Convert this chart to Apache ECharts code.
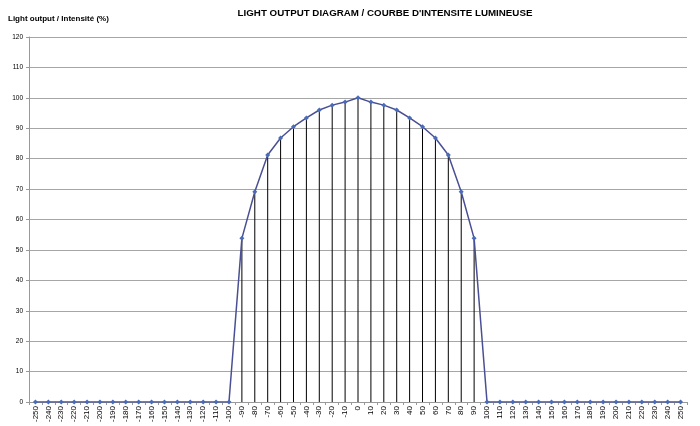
<!DOCTYPE html>
<html><head><meta charset="utf-8">
<script src="https://cdn.jsdelivr.net/npm/echarts@6/dist/echarts.min.js"></script>
<style>html,body{margin:0;padding:0;background:#fff}#c{width:700px;height:426px}</style>
</head><body><div id="c"></div>
<script>
var categories = [];
for (var a = -250; a <= 250; a += 10) categories.push(String(a));
var intensity = [
  0,0,0,0,0,0,0,0,0,0,0,0,0,0,0,0,
  53.8,69.1,81.2,86.8,90.5,93.4,96.0,97.6,98.6,100,
  98.6,97.6,96.0,93.4,90.5,86.8,81.2,69.1,53.8,
  0,0,0,0,0,0,0,0,0,0,0,0,0,0,0,0
];
var yTicks = {min: 0, max: 120, interval: 10};
var titleText = "LIGHT OUTPUT DIAGRAM / COURBE D'INTENSITE LUMINEUSE";
var yName = "Light output / Intensité (%)";

var chart = echarts.init(document.getElementById('c'), null, {renderer: 'canvas'});
chart.setOption({
  animation: false,
  backgroundColor: '#fff',
  title: {
    text: titleText, left: 380, top: 3, textAlign: 'center',
    textStyle: {fontFamily: 'Liberation Sans, Arial', fontSize: 9.75, fontWeight: 'bold', color: '#000'}
  },
  grid: {left: 29, right: 13, top: 37, bottom: 24, containLabel: false},
  xAxis: {
    type: 'category', data: categories, boundaryGap: true,
    axisLine: {lineStyle: {color: '#999', width: 1}},
    axisTick: {show: true, length: 3, lineStyle: {color: '#999'}},
    axisLabel: {rotate: 90, fontSize: 8, color: '#000', fontFamily: 'Liberation Sans, Arial', margin: 4, interval: 0}
  },
  yAxis: {
    type: 'value', min: yTicks.min, max: yTicks.max, interval: yTicks.interval,
    name: yName, nameLocation: 'end',
    nameTextStyle: {fontFamily: 'Liberation Sans, Arial', fontSize: 8, fontWeight: 'bold', color: '#000', align: 'left', padding: [0, 0, 6, -21]},
    nameGap: 8,
    axisLine: {show: true, lineStyle: {color: '#999', width: 1}},
    axisTick: {show: true, length: 3, lineStyle: {color: '#999'}},
    axisLabel: {fontSize: 6.5, color: '#000', fontFamily: 'Liberation Sans, Arial', margin: 6},
    splitLine: {show: true, lineStyle: {color: '#a6a6a6', width: 1}}
  },
  series: [
    {
      type: 'bar', data: intensity, barWidth: 1, barGap: '-100%',
      itemStyle: {color: '#000'}, silent: true, z: 1
    },
    {
      type: 'line', data: intensity, symbol: 'diamond', symbolSize: 5,
      lineStyle: {color: '#4a4f94', width: 1.5},
      itemStyle: {color: '#4a6bb8'}, z: 3
    }
  ]
});
</script></body></html>
